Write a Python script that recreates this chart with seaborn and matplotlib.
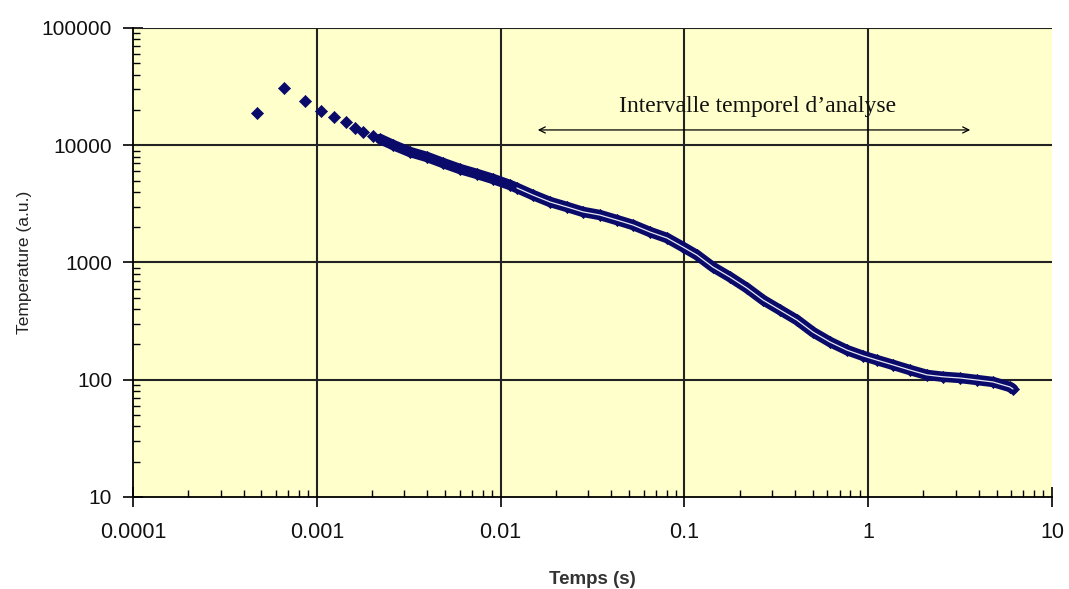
"""
Temperature decay vs time, log-log scatter with analysis interval.
"""

import matplotlib
matplotlib.use("Agg")
import matplotlib.pyplot as plt
import matplotlib.ticker as mticker
import pandas as pd
import seaborn as sns

# -- Data ----------------------------------------------------------------------
TIME_S = [
    4.73e-4, 6.63e-4, 8.62e-4, 1.054e-3, 1.24e-3, 1.44e-3, 1.61e-3, 1.78e-3,
    2.02e-3, 2.21e-3, 2.60e-3, 3.21e-3, 3.98e-3, 4.86e-3, 6.01e-3, 7.44e-3,
    9.09e-3, 1.125e-2, 1.228e-2, 1.50e-2, 1.86e-2, 2.30e-2, 2.81e-2, 3.47e-2,
    4.30e-2, 5.25e-2, 6.50e-2, 8.04e-2, 9.83e-2, 0.117, 0.143, 0.177, 0.219,
    0.268, 0.331, 0.410, 0.501, 0.620, 0.767, 0.937, 1.117, 1.364, 1.688,
    2.089, 2.553, 3.16, 3.91, 4.78, 5.91, 6.14,
]
TEMPERATURE = [
    18800, 30800, 23800, 19600, 17400, 15800, 14000, 13000,
    12000, 11300, 10050, 8760, 7940, 7060, 6270, 5690,
    5160, 4580, 4320, 3760, 3280, 2975, 2700, 2540,
    2300, 2090, 1820, 1618, 1356, 1158, 915, 752, 606,
    479, 394, 323, 255, 210, 179, 160, 147, 134, 121,
    110, 106, 103.5, 99.5, 95.7, 86.8, 83.4,
]
BAND_START = 9   # from here on the points merge into a dense band
FIT_START = 18   # white fitted line drawn from here on

X_TICKS = [1e-4, 1e-3, 1e-2, 1e-1, 1, 10]
X_LABELS = ["0.0001", "0.001", "0.01", "0.1", "1", "10"]
Y_TICKS = [10, 100, 1000, 10000, 100000]
Y_LABELS = ["10", "100", "1000", "10000", "100000"]

INTERVAL = (0.0154, 3.72)
INTERVAL_Y = 13500
INTERVAL_TEXT = "Intervalle temporel d\u2019analyse"

# -- Style ----------------------------------------------------------------------
sns.set_theme(style="white")
plt.rcParams["font.family"] = ["Liberation Sans", "DejaVu Sans"]
NAVY = "#0a0a6b"

df = pd.DataFrame({"t": TIME_S, "T": TEMPERATURE})
band = df.iloc[BAND_START:]
fit = df.iloc[FIT_START:]

fig = plt.figure(figsize=(10.69, 5.89), dpi=100)
ax = fig.add_axes([0.1244, 0.1562, 0.8596, 0.7963])
ax.set_facecolor("#FFFFCC")

ax.set_xscale("log")
ax.set_yscale("log")
ax.set_xlim(1e-4, 10)
ax.set_ylim(10, 1e5)

# dense measurement band
sns.lineplot(data=band, x="t", y="T", sort=False, estimator=None,
             color=NAVY, lw=7.5, ax=ax, zorder=3)
sns.scatterplot(data=df, x="t", y="T", marker="D", s=38, color=NAVY,
                edgecolor=NAVY, linewidth=0.5, ax=ax, zorder=4)
# fitted curve
sns.lineplot(data=fit, x="t", y="T", sort=False, estimator=None,
             color="white", lw=0.9, alpha=0.9, ax=ax, zorder=5)

# grid & spines
ax.grid(False)
for v in X_TICKS[1:-1]:
    ax.axvline(v, color="#222222", lw=1.5, zorder=1)
for v in Y_TICKS[1:]:
    ax.axhline(v, color="#222222", lw=1.5, zorder=1)
for side in ("top", "right"):
    ax.spines[side].set_visible(False)
for side in ("left", "bottom"):
    ax.spines[side].set_color("black")
    ax.spines[side].set_linewidth(1.3)

ax.xaxis.set_major_locator(mticker.FixedLocator(X_TICKS))
ax.xaxis.set_major_formatter(mticker.FixedFormatter(X_LABELS))
ax.yaxis.set_major_locator(mticker.FixedLocator(Y_TICKS))
ax.yaxis.set_major_formatter(mticker.FixedFormatter(Y_LABELS))
ax.xaxis.set_minor_locator(mticker.LogLocator(base=10, subs=range(2, 10)))
ax.yaxis.set_minor_locator(mticker.LogLocator(base=10, subs=range(2, 10)))
ax.xaxis.set_minor_formatter(mticker.NullFormatter())
ax.yaxis.set_minor_formatter(mticker.NullFormatter())

ax.tick_params(which="major", direction="inout", length=14, width=1.2,
               color="black", labelcolor="#111111", bottom=True, left=True)
ax.tick_params(axis="x", which="major", pad=11, labelsize=15.5)
ax.tick_params(axis="y", which="major", pad=8, labelsize=15)
ax.tick_params(which="minor", direction="in", length=5, width=1.0,
               color="black", bottom=True, left=True)

ax.set_xlabel("Temps (s)", fontsize=13.5, fontweight="bold", color="#333333",
              labelpad=20)
ax.set_ylabel("Temperature (a.u.)", fontsize=12.5, color="#222222",
              labelpad=7)

# analysis interval annotation
ax.annotate("", xy=(INTERVAL[1], INTERVAL_Y), xytext=(INTERVAL[0], INTERVAL_Y),
            arrowprops=dict(arrowstyle="<->", lw=0.9, color="black",
                            mutation_scale=11), zorder=6)
ax.text((INTERVAL[0] * INTERVAL[1]) ** 0.5 * 1.05, INTERVAL_Y * 1.3,
        INTERVAL_TEXT, family=["Liberation Serif", "DejaVu Serif"],
        fontsize=17, color="#111111", ha="center", va="bottom", zorder=6)

fig.savefig("out.png", dpi=100)
